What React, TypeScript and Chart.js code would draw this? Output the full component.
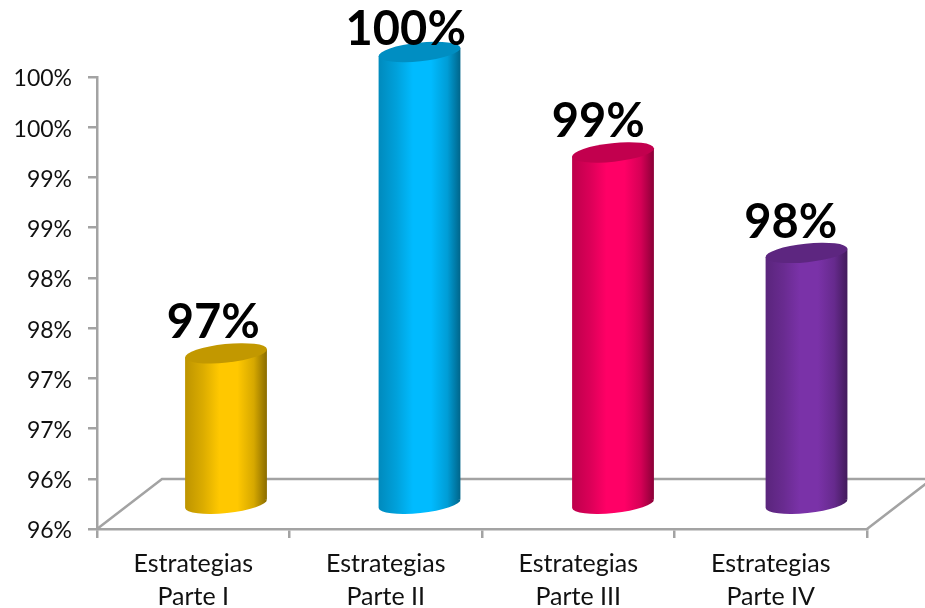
import React, { useEffect, useRef } from "react";
import { Chart, registerables, BarController, BarElement } from "chart.js";

Chart.register(...registerables);

const categories = [
  ["Estrategias", "Parte I"],
  ["Estrategias", "Parte II"],
  ["Estrategias", "Parte III"],
  ["Estrategias", "Parte IV"],
];
const completion = [97, 100, 99, 98];
const barColors = ["#FFC800", "#00BBFF", "#FF0066", "#7A32A8"];

const AXIS_MIN = 95.5;
const AXIS_MAX = 100;
const AXIS_STEP = 0.5;

const FONT = "Lato, Carlito, Calibri, sans-serif";
const AXIS_COLOR = "#A3A3A3";

// The floor recedes by this much from front edge to back edge.
const FLOOR_DX = 65;
const FLOOR_DY = 50;
// Columns stand mid-way into the floor, on a plane spread slightly wider than the axis.
const COLUMN_SPREAD = 1.0052;
const COLUMN_SHIFT_X = 31.75;
const COLUMN_SHIFT_Y = 25;
const BASE_SINK = 1;
const CAP_RY = 9.3;
const CAP_TILT = (-6 * Math.PI) / 180;
// Value labels keep this clear of the cap, but never rise past the top baseline.
const LABEL_GAP = 40;
const LABEL_MIN_BASELINE = 45;
const LABEL_SHIFT_X = 20;

function shade(hex: string, k: number) {
  const n = parseInt(hex.slice(1), 16);
  const c = [(n >> 16) & 255, (n >> 8) & 255, n & 255].map((v) => Math.round(v * k));
  return `rgb(${c[0]},${c[1]},${c[2]})`;
}

// Tilted-ellipse column built from the geometry the bar controller computes.
class CylinderElement extends BarElement {
  static id = "cylinder";

  draw(ctx: CanvasRenderingContext2D) {
    const { x, y, base, width } = this as any;
    const color = (this as any).options.backgroundColor as string;
    const cx = x * COLUMN_SPREAD + COLUMN_SHIFT_X;
    const top = y - COLUMN_SHIFT_Y;
    const bottom = base - COLUMN_SHIFT_Y + BASE_SINK;
    const half = width / 2;
    const cos = Math.cos(CAP_TILT);
    const sin = Math.sin(CAP_TILT);
    // Semi-major axis chosen so the ellipse's horizontal extent equals the bar's width.
    const rx = Math.sqrt((half * half - CAP_RY * CAP_RY * sin * sin) / (cos * cos));
    const t = Math.atan2(-CAP_RY * sin, rx * cos);
    const tangentY = rx * Math.cos(t) * sin + CAP_RY * Math.sin(t) * cos;

    const grad = ctx.createLinearGradient(cx - half, 0, cx + half, 0);
    grad.addColorStop(0, shade(color, 0.74));
    grad.addColorStop(0.22, shade(color, 0.86));
    grad.addColorStop(0.42, shade(color, 1));
    grad.addColorStop(0.64, shade(color, 1));
    grad.addColorStop(0.84, shade(color, 0.84));
    grad.addColorStop(1, shade(color, 0.54));

    ctx.save();
    ctx.beginPath();
    ctx.moveTo(cx - half, top - tangentY);
    ctx.lineTo(cx + half, top + tangentY);
    ctx.lineTo(cx + half, bottom + tangentY);
    ctx.lineTo(cx - half, bottom - tangentY);
    ctx.closePath();
    ctx.moveTo(cx + rx * cos, bottom + rx * sin);
    ctx.ellipse(cx, bottom, rx, CAP_RY, CAP_TILT, 0, Math.PI * 2);
    ctx.fillStyle = grad;
    ctx.fill();

    ctx.beginPath();
    ctx.ellipse(cx, top, rx, CAP_RY, CAP_TILT, 0, Math.PI * 2);
    ctx.fillStyle = shade(color, 0.76);
    ctx.fill();
    ctx.restore();
  }
}

class CylinderController extends BarController {
  static id = "cylinder";
  static defaults = { dataElementType: "cylinder" };
}

Chart.register(CylinderElement as any, CylinderController as any);

// Floor of the 3D plot, drawn behind the columns.
const floorPlugin = {
  id: "floor",
  beforeDatasetsDraw(chart: any) {
    const { ctx, chartArea } = chart;
    const { left, right, bottom } = chartArea;
    ctx.save();
    ctx.strokeStyle = AXIS_COLOR;
    ctx.lineWidth = 2.5;
    ctx.beginPath();
    ctx.moveTo(left, bottom);
    ctx.lineTo(left + FLOOR_DX, bottom - FLOOR_DY);
    ctx.lineTo(right + FLOOR_DX, bottom - FLOOR_DY);
    ctx.lineTo(right, bottom);
    ctx.stroke();
    ctx.restore();
  },
};

// Bold percentage above each column.
const valueLabelPlugin = {
  id: "valueLabels",
  afterDatasetsDraw(chart: any) {
    const { ctx } = chart;
    const meta = chart.getDatasetMeta(0);
    ctx.save();
    ctx.font = `bold 47px ${FONT}`;
    ctx.fillStyle = "#000";
    ctx.textAlign = "center";
    ctx.textBaseline = "alphabetic";
    meta.data.forEach((bar: any, i: number) => {
      const baseline = Math.max(bar.y - LABEL_GAP, LABEL_MIN_BASELINE);
      ctx.fillText(`${completion[i]}%`, bar.x + LABEL_SHIFT_X, baseline);
    });
    ctx.restore();
  },
};

export default function App() {
  const ref = useRef<HTMLCanvasElement>(null);

  useEffect(() => {
    const chart = new Chart(ref.current!, {
      type: "cylinder" as any,
      data: {
        labels: categories,
        datasets: [
          {
            data: completion,
            base: AXIS_MIN,
            backgroundColor: barColors,
            categoryPercentage: 1,
            barPercentage: 0.425,
            clip: false,
          } as any,
        ],
      },
      options: {
        responsive: false,
        animation: false,
        layout: { padding: { top: 77, right: 58, left: 0, bottom: 0 } },
        plugins: { legend: { display: false }, tooltip: { enabled: false } },
        scales: {
          x: {
            type: "category",
            offset: true,
            grid: {
              offset: true,
              drawOnChartArea: false,
              color: AXIS_COLOR,
              lineWidth: 2.5,
              tickLength: 9,
            },
            border: { color: AXIS_COLOR, width: 2.5 },
            ticks: {
              color: "#111",
              font: { family: FONT, size: 25, lineHeight: 1.3 },
              padding: 10,
              maxRotation: 0,
              autoSkip: false,
            },
            afterFit: (scale: any) => {
              scale.height = 79;
            },
          },
          y: {
            type: "linear",
            min: AXIS_MIN,
            max: AXIS_MAX,
            grid: {
              drawOnChartArea: false,
              color: AXIS_COLOR,
              lineWidth: 2.5,
              tickLength: 9,
            },
            border: { color: AXIS_COLOR, width: 2.5 },
            ticks: {
              stepSize: AXIS_STEP,
              color: "#111",
              font: { family: FONT, size: 23 },
              padding: 16,
              labelOffset: 2,
              callback: (v: any) => `${Math.round(Number(v))}%`,
            },
            afterFit: (scale: any) => {
              scale.width = 97;
            },
          },
        },
      } as any,
      plugins: [floorPlugin, valueLabelPlugin],
    });
    return () => chart.destroy();
  }, []);

  return (
    <div style={{ position: "absolute", left: 0, top: 0, width: 925, height: 608 }}>
      <canvas ref={ref} width={925} height={608} style={{ display: "block" }} />
    </div>
  );
}
